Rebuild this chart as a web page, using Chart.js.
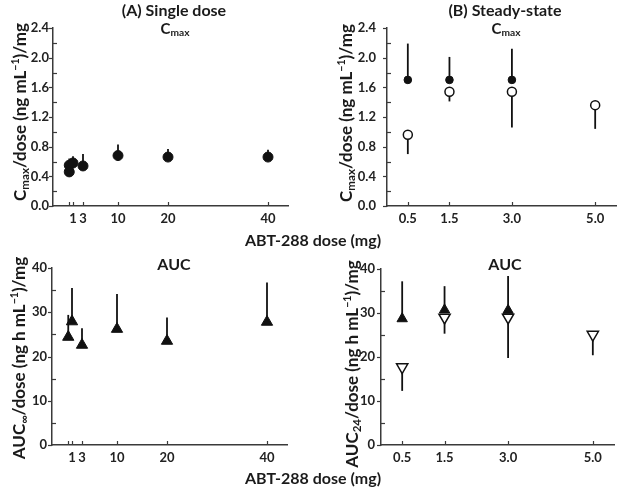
<!DOCTYPE html>
<html>
<head>
<meta charset="utf-8">
<script src="https://cdn.jsdelivr.net/npm/chart.js@4.4.1/dist/chart.umd.min.js"></script>
<style>
  body { margin: 0; background: #fff; }
  #wrap { position: relative; width: 622px; height: 493px; overflow: hidden;
          font-family: Lato, 'Open Sans', sans-serif; font-weight: bold; color: #1a1a1a; }
  canvas { position: absolute; left: 0; top: 0; }
  .lbl { position: absolute; white-space: nowrap; line-height: 1; transform: translate(-50%, -50%); }
  .rot { transform: translate(-50%, -50%) rotate(-90deg); }
  sub { font-size: 0.68em; vertical-align: -0.28em; line-height: 0; }
  sup { font-size: 0.62em; vertical-align: 0.6em; line-height: 0; }
</style>
</head>
<body>
<div id="wrap">
  <canvas id="cA1" width="622" height="493"></canvas>
  <canvas id="cB1" width="622" height="493"></canvas>
  <canvas id="cA2" width="622" height="493"></canvas>
  <canvas id="cB2" width="622" height="493"></canvas>

  <div class="lbl" style="left:174px;top:10px;font-size:16px">(A) Single dose</div>
  <div class="lbl" style="left:175px;top:28px;font-size:15px">C<sub>max</sub></div>
  <div class="lbl" style="left:505px;top:10px;font-size:16px">(B) Steady-state</div>
  <div class="lbl" style="left:506px;top:28px;font-size:15px">C<sub>max</sub></div>
  <div class="lbl" style="left:174px;top:264px;font-size:16px">AUC</div>
  <div class="lbl" style="left:505px;top:264px;font-size:16px">AUC</div>
  <div class="lbl" style="left:313px;top:240px;font-size:16px">ABT-288 dose (mg)</div>
  <div class="lbl" style="left:313px;top:478px;font-size:16px">ABT-288 dose (mg)</div>

  <div class="lbl rot" style="left:19px;top:112px;font-size:17px">C<sub>max</sub>/dose (ng mL<sup>&minus;1</sup>)/mg</div>
  <div class="lbl rot" style="left:345px;top:113px;font-size:17px">C<sub>max</sub>/dose (ng mL<sup>&minus;1</sup>)/mg</div>
  <div class="lbl rot" style="left:18px;top:358px;font-size:17px">AUC<sub>&infin;</sub>/dose (ng h mL<sup>&minus;1</sup>)/mg</div>
  <div class="lbl rot" style="left:351px;top:364px;font-size:17px">AUC<sub>24</sub>/dose (ng h mL<sup>&minus;1</sup>)/mg</div>
</div>

<script>
// tick positions and labels
const singleDoseTicks = [0.25, 1, 3, 10, 20, 40];
const singleDoseTickLabels = ['', '1', '3', '10', '20', '40'];
const steadyDoseTicks = [0.5, 1.5, 3.0, 5.0];
const steadyDoseTickLabels = ['0.5', '1.5', '3.0', '5.0'];
const cmaxTicks = [0, 0.2, 0.4, 0.6, 0.8, 1.0, 1.2, 1.4, 1.6, 1.8, 2.0, 2.2, 2.4];
const cmaxTickLabels = ['0.0', '', '0.4', '', '0.8', '', '1.2', '', '1.6', '', '2.0', '', '2.4'];
const aucTicks = [0, 5, 10, 15, 20, 25, 30, 35, 40];
const aucTickLabels = ['0', '', '10', '', '20', '', '30', '', '40'];

// (A) single dose, mean and upper SD
const sdCmaxDose = [0.25, 0.25, 1, 3, 10, 20, 40];
const sdCmax = [0.55, 0.46, 0.58, 0.54, 0.68, 0.66, 0.66];
const sdCmaxUpper = [0.64, null, 0.67, 0.70, 0.83, 0.77, 0.76];
const sdAucDose = [0.25, 1, 3, 10, 20, 40];
const sdAuc = [24.4, 27.9, 22.6, 26.2, 23.5, 27.8];
const sdAucUpper = [29.4, 35.5, 26.4, 34.1, 28.8, 36.7];

// (B) steady state: filled = upper SD, open = lower SD
const ssDoseFilled = [0.5, 1.5, 3.0];
const ssDoseOpen = [0.5, 1.5, 3.0, 5.0];
const ssCmaxFilled = [1.70, 1.70, 1.70];
const ssCmaxFilledUpper = [2.19, 2.01, 2.12];
const ssCmaxOpen = [0.96, 1.54, 1.54, 1.36];
const ssCmaxOpenLower = [0.70, 1.41, 1.06, 1.04];
const ssAucFilled = [28.7, 30.7, 30.6];
const ssAucFilledUpper = [37.2, 36.1, 38.4];
const ssAucOpen = [17.7, 29.0, 29.0, 25.1];
const ssAucOpenLower = [12.3, 25.3, 19.8, 20.4];

const W = 622, H = 493;
const INK = '#111';
const AXIS = '#3a3a3a';
const tickFont = { family: 'Lato', weight: 'bold', size: 13 };

const pts = (xs, ys) => xs.map((x, i) => ({ x: x, y: ys[i] }));

// vertical error bars, drawn under the markers
const errorBars = {
  id: 'errorBars',
  beforeDatasetsDraw(chart) {
    const { ctx, scales: { x, y } } = chart;
    ctx.save();
    ctx.strokeStyle = INK;
    ctx.lineWidth = 1.8;
    chart.data.datasets.forEach(ds => {
      if (!ds.err) return;
      ds.data.forEach((p, i) => {
        const e = ds.err[i];
        if (e == null) return;
        const px = x.getPixelForValue(p.x);
        ctx.beginPath();
        ctx.moveTo(px, y.getPixelForValue(p.y));
        ctx.lineTo(px, y.getPixelForValue(e));
        ctx.stroke();
      });
    });
    ctx.restore();
  }
};

// x ticks point inward; labelled y ticks outward, unlabelled inward
const tickMarks = {
  id: 'tickMarks',
  afterDraw(chart) {
    const { ctx, chartArea, scales: { x, y } } = chart;
    ctx.save();
    ctx.strokeStyle = AXIS;
    ctx.lineWidth = 1.2;
    x.ticks.forEach(t => {
      const px = Math.round(x.getPixelForValue(t.value)) + 0.5;
      ctx.beginPath();
      ctx.moveTo(px, chartArea.bottom);
      ctx.lineTo(px, chartArea.bottom - 4);
      ctx.stroke();
    });
    y.ticks.forEach(t => {
      const py = Math.round(y.getPixelForValue(t.value)) + 0.5;
      const dir = t.label === '' ? 1 : -1;
      ctx.beginPath();
      ctx.moveTo(chartArea.left, py);
      ctx.lineTo(chartArea.left + dir * 4, py);
      ctx.stroke();
    });
    ctx.restore();
  }
};

function makePanel(id, area, xr, xt, xl, yr, yt, yl, yPad, datasets) {
  return new Chart(document.getElementById(id), {
    type: 'scatter',
    data: { datasets: datasets },
    plugins: [errorBars, tickMarks],
    options: {
      responsive: false,
      animation: false,
      devicePixelRatio: 1,
      events: [],
      layout: { padding: { left: 0, top: area.top, right: W - area.right, bottom: 0 } },
      plugins: { legend: { display: false }, tooltip: { enabled: false } },
      scales: {
        x: {
          type: 'linear', min: xr[0], max: xr[1],
          afterBuildTicks: s => { s.ticks = xt.map(v => ({ value: v })); },
          afterFit: s => { s.height = H - area.bottom; },
          grid: { display: false, drawTicks: false },
          border: { display: true, color: AXIS, width: 1.5 },
          ticks: { callback: (v, i) => xl[i], padding: 5, font: tickFont, color: '#222',
                   autoSkip: false, maxRotation: 0 }
        },
        y: {
          type: 'linear', min: yr[0], max: yr[1],
          afterBuildTicks: s => { s.ticks = yt.map(v => ({ value: v })); },
          afterFit: s => { s.width = area.left; },
          grid: { display: false, drawTicks: false },
          border: { display: true, color: AXIS, width: 1.5 },
          ticks: { callback: (v, i) => yl[i], padding: yPad, font: tickFont, color: '#222',
                   autoSkip: false }
        }
      }
    }
  });
}

makePanel('cA1', { left: 53, top: 28, right: 288, bottom: 206 },
  [-3, 44], singleDoseTicks, singleDoseTickLabels,
  [0, 2.4], cmaxTicks, cmaxTickLabels, 4,
  [{
    data: pts(sdCmaxDose, sdCmax), err: sdCmaxUpper,
    pointStyle: 'circle', pointRadius: 5, pointBackgroundColor: INK,
    pointBorderColor: INK, pointBorderWidth: 1, clip: false
  }]);

makePanel('cB1', { left: 387, top: 28, right: 621, bottom: 206 },
  [0, 5.5], steadyDoseTicks, steadyDoseTickLabels,
  [0, 2.4], cmaxTicks, cmaxTickLabels, 11,
  [{
    data: pts(ssDoseOpen, ssCmaxOpen), err: ssCmaxOpenLower,
    pointStyle: 'circle', pointRadius: 4.5, pointBackgroundColor: '#fff',
    pointBorderColor: INK, pointBorderWidth: 1.5, clip: false
  }, {
    data: pts(ssDoseFilled, ssCmaxFilled), err: ssCmaxFilledUpper,
    pointStyle: 'circle', pointRadius: 3.8, pointBackgroundColor: INK,
    pointBorderColor: INK, pointBorderWidth: 1, clip: false
  }]);

makePanel('cA2', { left: 52, top: 268, right: 287, bottom: 445 },
  [-3, 44], singleDoseTicks, singleDoseTickLabels,
  [0, 40], aucTicks, aucTickLabels, 5,
  [{
    data: pts(sdAucDose, sdAuc), err: sdAucUpper,
    pointStyle: 'triangle', pointRadius: 6.5, pointBackgroundColor: INK,
    pointBorderColor: INK, pointBorderWidth: 1, clip: false
  }]);

makePanel('cB2', { left: 381, top: 269, right: 616, bottom: 445 },
  [0, 5.5], steadyDoseTicks, steadyDoseTickLabels,
  [0, 40], aucTicks, aucTickLabels, 6,
  [{
    data: pts(ssDoseOpen, ssAucOpen), err: ssAucOpenLower,
    pointStyle: 'triangle', rotation: 180, pointRadius: 6.5, pointBackgroundColor: '#fff',
    pointBorderColor: INK, pointBorderWidth: 1.5, clip: false
  }, {
    data: pts(ssDoseFilled, ssAucFilled), err: ssAucFilledUpper,
    pointStyle: 'triangle', pointRadius: 6, pointBackgroundColor: INK,
    pointBorderColor: INK, pointBorderWidth: 1, clip: false
  }]);
</script>
</body>
</html>
